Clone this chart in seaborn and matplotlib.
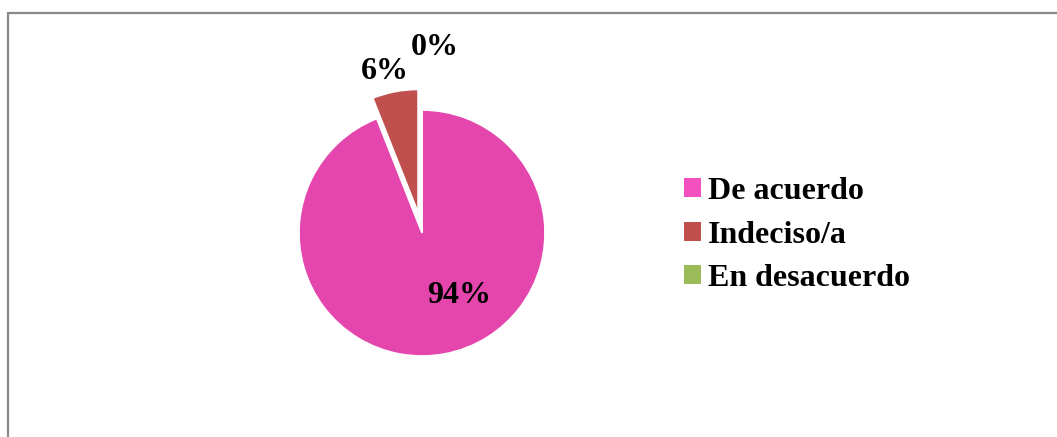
import matplotlib
matplotlib.use("Agg")
import matplotlib.pyplot as plt
from matplotlib.lines import Line2D
from matplotlib.patches import Patch
import seaborn as sns

# Survey answers and their shares (%)
categories = ["De acuerdo", "Indeciso/a", "En desacuerdo"]
shares = [94, 6, 0]
colors = ["#E546AE", "#C0504D", "#9BBB59"]
legend_colors = ["#F550C0", "#C0504D", "#9BBB59"]

sns.set_theme(style="white")
plt.rcParams["font.family"] = ["Liberation Serif", "DejaVu Serif"]
plt.rcParams["text.color"] = "black"

W, H = 1057, 437
fig = plt.figure(figsize=(W / 100, H / 100), dpi=100)
fig.patch.set_facecolor("white")

# Chart-area frame (left and top edges visible)
frame_kw = dict(color="#888888", linewidth=1.6, transform=fig.transFigure)
fig.add_artist(Line2D([8 / W, 8 / W], [0, 1 - 13 / H], **frame_kw))
fig.add_artist(Line2D([8 / W, 1], [1 - 13 / H, 1 - 13 / H], **frame_kw))

# Pie axes: centre at (422, 233) px, radius 123 px
cx, cy, r = 422, 233, 123
half = 200
ax = fig.add_axes([(cx - half) / W, (H - cy - half) / H, 2 * half / W, 2 * half / H])

wedges, _ = ax.pie(
    shares,
    colors=colors,
    startangle=90,
    counterclock=False,
    explode=[0, 0.17, 0],
    radius=1,
    wedgeprops=dict(edgecolor="white", linewidth=1.2),
)
lim = half / r
ax.set_xlim(-lim, lim)
ax.set_ylim(-lim, lim)
ax.axis("off")

# Percentage labels
label_pos = [(0.30, -0.51), (-0.30, 1.31), (0.106, 1.51)]
for val, (lx, ly) in zip(shares, label_pos):
    ax.text(lx, ly, f"{val}%", ha="center", va="center",
            fontsize=23, fontweight="bold", color="black")

handles = [Patch(facecolor=c, edgecolor="none") for c in legend_colors]
leg = fig.legend(
    handles, categories,
    loc="center left", bbox_to_anchor=(684 / W, 1 - 235 / H),
    frameon=False, borderpad=0, borderaxespad=0,
    handlelength=0.54, handleheight=0.54, handletextpad=0.22,
    labelspacing=0.45,
    prop=dict(family="Liberation Serif", weight="bold", size=23),
)
for t in leg.get_texts():
    t.set_color("black")

fig.savefig("out.png", dpi=100, facecolor="white")
